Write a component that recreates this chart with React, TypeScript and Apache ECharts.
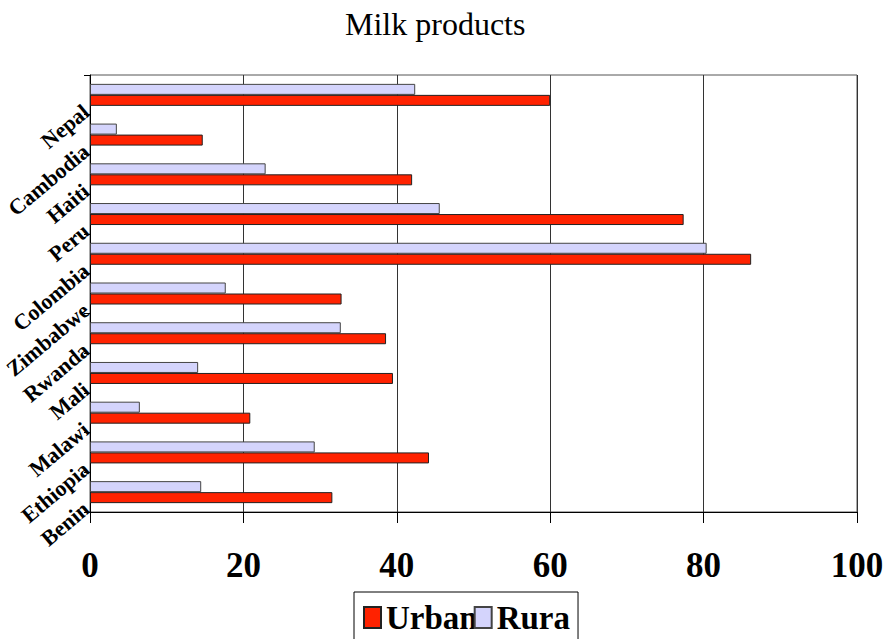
import React, { useEffect, useRef } from "react";
import * as echarts from "echarts";

// Countries, listed bottom-to-top along the category axis
const categories = [
  "Benin",
  "Ethiopia",
  "Malawi",
  "Mali",
  "Rwanda",
  "Zimbabwe",
  "Colombia",
  "Peru",
  "Haiti",
  "Cambodia",
  "Nepal",
];

// Percentages per country, same order as categories
const urbanValues = [31.6, 44.2, 20.9, 39.5, 38.6, 32.8, 86.2, 77.4, 42.0, 14.7, 60.0];
const ruralValues = [14.5, 29.3, 6.5, 14.1, 32.7, 17.7, 80.4, 45.6, 22.9, 3.5, 42.4];

const seriesNames = ["Urban", "Rural"];
const titleText = "Milk products";

const SERIF = "'Liberation Serif', 'Times New Roman', serif";

export default function App() {
  const ref = useRef<HTMLDivElement>(null);

  useEffect(() => {
    document.body.style.margin = "0";
    if (!ref.current) return;
    const chart = echarts.init(ref.current, undefined, { renderer: "svg" });

    const option: echarts.EChartsOption = {
      animation: false,
      backgroundColor: "#ffffff",
      title: {
        text: titleText,
        left: 345,
        top: 8,
        padding: 0,
        textStyle: {
          fontFamily: SERIF,
          fontWeight: "normal",
          fontSize: 32,
          color: "#000",
        },
      },
      legend: {
        data: [
          { name: seriesNames[0] },
          {
            name: seriesNames[1],
            textStyle: { width: 79, overflow: "truncate", ellipsis: "" },
          },
        ],
        left: 354,
        top: 592,
        orient: "horizontal",
        padding: [9, 8, 12, 9],
        itemWidth: 17,
        itemHeight: 21,
        itemGap: -4,
        icon: "rect",
        selectedMode: false,
        borderColor: "#000",
        borderWidth: 1,
        textStyle: {
          fontFamily: SERIF,
          fontWeight: "bold",
          fontSize: 33,
          color: "#000",
        },
      },
      grid: [
        {
          left: 90,
          right: 34,
          top: 75,
          bottom: 127,
          show: true,
          borderColor: "#555",
          borderWidth: 1,
          backgroundColor: "transparent",
        },
        {
          // Holds only the country-name axis, set slightly higher than the bars
          left: 90,
          right: 34,
          top: 69,
          bottom: 133,
          show: false,
        },
      ],
      xAxis: [
        {
          type: "value",
          gridIndex: 0,
          min: 0,
          max: 100,
          interval: 20,
          axisLine: { show: true, lineStyle: { color: "#000", width: 1 } },
          axisTick: { show: true, length: 11, lineStyle: { color: "#000" } },
          splitLine: { show: true, lineStyle: { color: "#333", width: 1 } },
          axisLabel: {
            margin: 36,
            fontFamily: SERIF,
            fontWeight: "bold",
            fontSize: 35,
            color: "#000",
          },
        },
        {
          type: "value",
          gridIndex: 1,
          min: 0,
          max: 100,
          show: false,
        },
      ],
      yAxis: [
        {
          type: "category",
          gridIndex: 0,
          data: categories,
          axisLine: { show: true, lineStyle: { color: "#000", width: 1 } },
          axisTick: {
            show: true,
            length: 6,
            interval: 0,
            lineStyle: { color: "#000" },
          },
          axisLabel: { show: false },
          splitLine: { show: false },
        },
        {
          // Country names sit on the band boundaries, below each pair of bars
          type: "value",
          gridIndex: 1,
          position: "left",
          min: 0,
          max: categories.length,
          interval: 1,
          axisLine: { show: false },
          axisTick: { show: false },
          splitLine: { show: false },
          axisLabel: {
            show: true,
            rotate: 40,
            margin: 4,
            fontFamily: SERIF,
            fontWeight: "bold",
            fontSize: 22,
            color: "#000",
            formatter: (v: number) => categories[Math.round(v)] ?? "",
          },
        },
      ],
      series: [
        {
          name: seriesNames[1],
          type: "bar",
          xAxisIndex: 0,
          yAxisIndex: 0,
          data: ruralValues,
          barWidth: 11,
          barGap: "0%",
          itemStyle: { color: "#d4d4fc", borderColor: "#444", borderWidth: 1 },
        },
        {
          name: seriesNames[0],
          type: "bar",
          xAxisIndex: 0,
          yAxisIndex: 0,
          data: urbanValues,
          barWidth: 11,
          barGap: "0%",
          itemStyle: { color: "#ff2200", borderColor: "#222", borderWidth: 1 },
        },
      ],
    };

    chart.setOption(option);
    return () => chart.dispose();
  }, []);

  return <div ref={ref} style={{ width: 891, height: 639 }} />;
}
